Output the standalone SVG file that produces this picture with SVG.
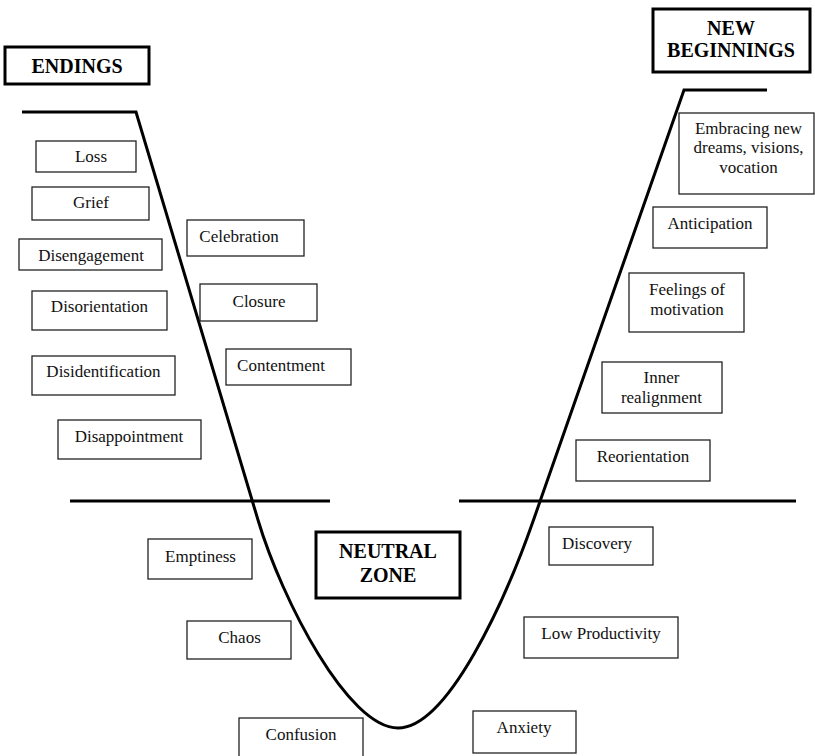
<svg xmlns="http://www.w3.org/2000/svg" width="815" height="756" viewBox="0 0 815 756">
<style>
.box{fill:#fff;stroke:#222;stroke-width:1.3}
.hbox{fill:#fff;stroke:#000;stroke-width:3}
.t{font-family:'Liberation Serif','Times New Roman','DejaVu Serif',serif;font-size:17px;fill:#111;text-anchor:middle}
.h{font-family:'Liberation Serif','Times New Roman','DejaVu Serif',serif;font-size:20px;font-weight:bold;fill:#000;text-anchor:middle}
.ln{fill:none;stroke:#000;stroke-width:3}
</style>
<rect width="815" height="756" fill="#fff"/>
<g id="lines">
<path class="ln" d="M22,112 L136,112 L258,520 C282,600 348,728 398,728 C448,728 505.5,600 533.5,520 L684,90 L767,90"/>
<line class="ln" x1="70" y1="501" x2="330" y2="501"/>
<line class="ln" x1="459" y1="501" x2="796" y2="501"/>
</g>
<g font-family="Liberation Serif, Times New Roman, DejaVu Serif, serif">
<g id="endings"><rect class="hbox" x="5" y="47" width="144" height="37"/><text class="h" x="77" y="73">ENDINGS</text></g>
<g id="new-beginnings"><rect class="hbox" x="653" y="9" width="157" height="63"/><text class="h" x="731" y="35">NEW</text><text class="h" x="731" y="57">BEGINNINGS</text></g>
<g id="neutral-zone"><rect class="hbox" x="316" y="532" width="144" height="66"/><text class="h" x="388" y="558">NEUTRAL</text><text class="h" x="388" y="582">ZONE</text></g>
<g id="loss"><rect class="box" x="36" y="141" width="100" height="31"/><text class="t" x="91" y="162">Loss</text></g>
<g id="grief"><rect class="box" x="32" y="187" width="117" height="33"/><text class="t" x="91" y="208">Grief</text></g>
<g id="disengagement"><rect class="box" x="19" y="239" width="143" height="31"/><text class="t" x="91" y="261">Disengagement</text></g>
<g id="celebration"><rect class="box" x="187" y="220" width="117" height="36"/><text class="t" x="239" y="242">Celebration</text></g>
<g id="disorientation"><rect class="box" x="32" y="291" width="135" height="39"/><text class="t" x="99.5" y="312">Disorientation</text></g>
<g id="closure"><rect class="box" x="200" y="284" width="117" height="37"/><text class="t" x="259" y="307">Closure</text></g>
<g id="disidentification"><rect class="box" x="32" y="356" width="143" height="39"/><text class="t" x="103.5" y="377">Disidentification</text></g>
<g id="contentment"><rect class="box" x="226" y="349" width="125" height="36"/><text class="t" x="281" y="371">Contentment</text></g>
<g id="disappointment"><rect class="box" x="58" y="420" width="143" height="39"/><text class="t" x="129" y="442">Disappointment</text></g>
<g id="embracing"><rect class="box" x="679" y="113" width="135" height="81"/><text class="t" x="748.5" y="134">Embracing new</text><text class="t" x="748.5" y="153">dreams, visions,</text><text class="t" x="748.5" y="173">vocation</text></g>
<g id="anticipation"><rect class="box" x="653" y="207" width="114" height="41"/><text class="t" x="710" y="229">Anticipation</text></g>
<g id="motivation"><rect class="box" x="629" y="273" width="115" height="59"/><text class="t" x="687" y="295">Feelings of</text><text class="t" x="687" y="315">motivation</text></g>
<g id="realignment"><rect class="box" x="602" y="362" width="120" height="51"/><text class="t" x="661.5" y="383">Inner</text><text class="t" x="661.5" y="403">realignment</text></g>
<g id="reorientation"><rect class="box" x="576" y="440" width="134" height="41"/><text class="t" x="643" y="462">Reorientation</text></g>
<g id="emptiness"><rect class="box" x="148" y="539" width="104" height="40"/><text class="t" x="200.5" y="562">Emptiness</text></g>
<g id="discovery"><rect class="box" x="549" y="527" width="104" height="38"/><text class="t" x="597" y="549">Discovery</text></g>
<g id="chaos"><rect class="box" x="187" y="621" width="104" height="38"/><text class="t" x="239.5" y="643">Chaos</text></g>
<g id="low-productivity"><rect class="box" x="524" y="617" width="154" height="41"/><text class="t" x="601" y="639">Low Productivity</text></g>
<g id="confusion"><rect class="box" x="239" y="718" width="124" height="42"/><text class="t" x="301" y="740">Confusion</text></g>
<g id="anxiety"><rect class="box" x="473" y="711" width="103" height="42"/><text class="t" x="524" y="733">Anxiety</text></g>
</g>
</svg>
